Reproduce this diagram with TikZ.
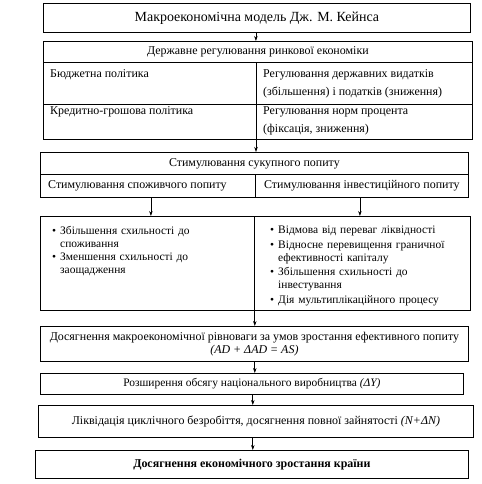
\documentclass[tikz,border=0pt]{standalone}
\usepackage{fontspec}
\setmainfont{Liberation Serif}
\usetikzlibrary{arrows.meta,calc}
\newcommand{\bitem}[1]{\hangindent=8bp\hangafter=1\noindent\makebox[8bp][l]{•}#1\par}
\begin{document}
\begin{tikzpicture}[x=1bp,y=-1bp,
  box/.style={draw, line width=0.8bp, inner sep=0pt, anchor=north west, font=\fontsize{12}{13}\selectfont, align=center},
  txt/.style={inner sep=0pt, font=\fontsize{12}{18}\selectfont, align=left},
  lst/.style={inner sep=0pt, anchor=north west, text width=190bp, font=\fontsize{11.5}{13}\selectfont, align=left},
  arr/.style={-{Stealth[length=5bp,width=3.5bp]}, line width=0.7bp}]
\useasboundingbox (0,0) rectangle (482,484);
% box 1
\node[box, minimum width=427bp, minimum height=29bp, font=\fontsize{14}{16}\selectfont] (b1) at (43,3) {Макроекономічна модель Дж. М. Кейнса};
% box 2
\node[box, minimum width=429bp, minimum height=21bp] (b2t) at (43,41) {Державне регулювання ринкової економіки};
\node[box, minimum width=213bp, minimum height=42bp] (b2a) at (43,62) {};
\node[box, minimum width=216bp, minimum height=42bp] (b2b) at (256,62) {};
\node[box, minimum width=213bp, minimum height=35bp] (b2c) at (43,104) {};
\node[box, minimum width=216bp, minimum height=35bp] (b2d) at (256,104) {};
\node[txt, anchor=west] (t2a) at (50,75) {Бюджетна політика};
\node[txt, anchor=west] (t2b) at (263,84) {Регулювання державних видатків\\(збільшення) і податків (зниження)};
\node[txt, anchor=west] (t2c) at (50,112) {Кредитно-грошова політика};
\node[txt, anchor=west] (t2d) at (263,121) {Регулювання норм процента\\(фіксація, зниження)};
% box 3
\node[box, minimum width=428bp, minimum height=22bp] (b3t) at (40,152) {Стимулювання сукупного попиту};
\node[box, minimum width=215bp, minimum height=23bp] (b3a) at (40,174) {};
\node[box, minimum width=213bp, minimum height=23bp] (b3b) at (255,174) {Стимулювання інвестиційного попиту};
\node[txt, anchor=west] (t3a) at (48,185.5) {Стимулювання споживчого попиту};
% box 4
\node[box, minimum width=214bp, minimum height=94bp] (b4a) at (40,216) {};
\node[box, minimum width=216bp, minimum height=94bp] (b4b) at (254,216) {};
\node[lst] (l4a) at (52,226) {\bitem{Збільшення схильності до споживання}\bitem{Зменшення схильності до заощадження}};
\node[lst] (l4b) at (270,226) {\setlength{\parskip}{1.5bp}\bitem{Відмова від переваг ліквідності}\bitem{Відносне перевищення граничної ефективності капіталу}\bitem{Збільшення схильності до інвестування}\bitem{Дія мультиплікаційного процесу}};
% boxes 5-8
\node[box, minimum width=428bp, minimum height=35bp] (b5) at (40,326) {Досягнення макроекономічної рівноваги за умов зростання ефективного попиту\\\textit{(AD + ΔAD = AS)}};
\node[box, minimum width=423bp, minimum height=21bp, font=\fontsize{11.5}{13}\selectfont] (b6) at (40,373) {Розширення обсягу національного виробництва \textit{(ΔY)}};
\node[box, minimum width=435bp, minimum height=32bp] (b7) at (38,405) {Ліквідація циклічного безробіття, досягнення повної зайнятості \textit{(N+ΔN)}};
\node[box, minimum width=433bp, minimum height=28bp, font=\fontsize{12}{13}\selectfont\bfseries] (b8) at (35,450) {Досягнення економічного зростання країни};
% arrows
\draw[arr] ([xshift=-1bp]b1.south) -- ([xshift=-1bp]b1.south |- b2t.north);
\draw[arr] (b2d.south west) -- (b2d.south west |- b3t.north);
\draw[arr] ([xshift=3bp]b3a.south) -- ([xshift=3bp]b3a.south |- b4a.north);
\draw[arr] ([xshift=-2bp]b3b.south) -- ([xshift=-2bp]b3b.south |- b4b.north);
\draw[arr] (b4a.south east) -- (b4a.south east |- b5.north);
\draw[arr] (b5.south -| b4a.south east) -- (b6.north -| b4a.south east);
\draw[arr] ([xshift=-2bp]b6.south -| b4a.south east) -- ([xshift=-2bp]b7.north -| b4a.south east);
\draw[arr] ([xshift=-2bp]b7.south -| b4a.south east) -- ([xshift=-2bp]b8.north -| b4a.south east);
\end{tikzpicture}
\end{document}
